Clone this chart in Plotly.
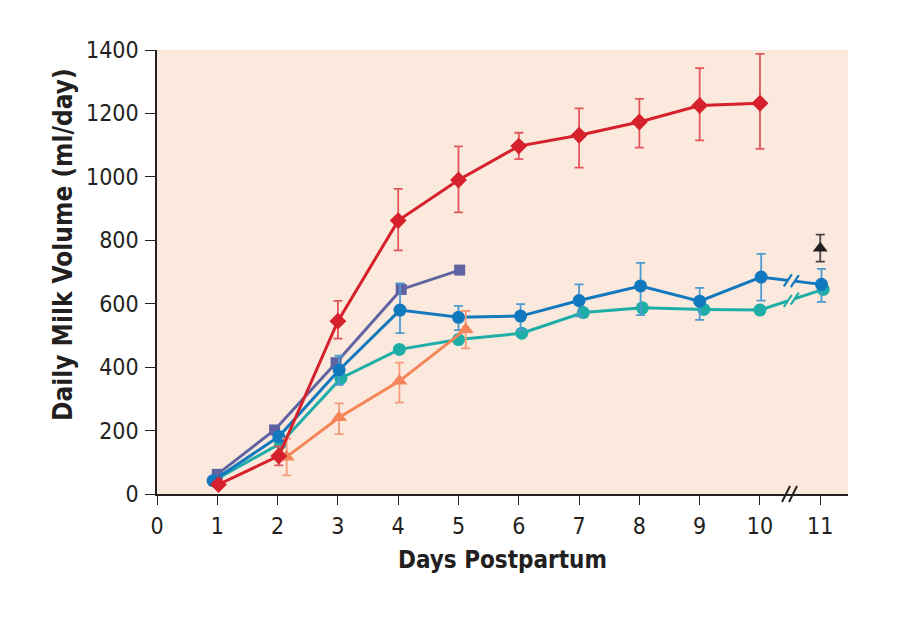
import plotly.graph_objects as go

# ---------------- data ----------------
red_x = [1.02, 2.02, 3.0, 4.0, 5.0, 6.0, 7.0, 8.0, 9.0, 10.0]
red_y = [30, 120, 545, 862, 990, 1097, 1131, 1173, 1225, 1232]
red_ep = [None, 30, 64, 100, 106, 42, 85, 73, 118, 156]
red_em = [None, 30, 55, 94, 102, 41, 102, 81, 110, 144]

purple_x = [1.0, 1.95, 2.97, 4.05, 5.02]
purple_y = [62, 202, 414, 645, 706]

blue_x = [0.93, 2.02, 3.02, 4.03, 5.0, 6.03, 7.0, 8.02, 9.0, 10.02, 11.02]
blue_y = [42, 181, 391, 580, 557, 561, 610, 656, 608, 684, 661]
blue_ep = [None, None, 45, 84, 36, 38, 51, 73, 42, 73, 49]
blue_em = [None, None, 47, 73, 40, 44, 50, 92, 59, 74, 55]

teal_x = [0.97, 2.05, 3.05, 4.02, 5.0, 6.05, 7.07, 8.05, 9.07, 10.0, 11.05]
teal_y = [45, 160, 365, 456, 487, 507, 572, 587, 582, 580, 645]

orange_x = [2.15, 3.02, 4.02, 5.12]
orange_y = [117, 241, 356, 519]
orange_ep = [58, 45, 58, 58]
orange_em = [58, 52, 68, 60]

black_x = [11.0]
black_y = [775]
black_ep = [43]
black_em = [42]

x_ticks = list(range(0, 12))
y_ticks = [0, 200, 400, 600, 800, 1000, 1200, 1400]
x_range = [0, 11.46]
y_range = [0, 1400]
break_x = 10.52

# ---------------- style ----------------
RED = "#D6202B"
PURPLE = "#5F63A2"
BLUE = "#1279BE"
TEAL = "#1FADA8"
ORANGE = "#F4855A"
BLACK = "#231F20"
BG = "#FCE9DD"
AXIS = "#231F20"

# the page body has an 8px margin, so the figure is slightly smaller
W, H = 892, 636
ML, MR, MT, MB = 149, 52, 42, 150
PW = W - ML - MR
PH = H - MT - MB
ppx = PW / (x_range[1] - x_range[0])   # pixels per day
ppy = PH / (y_range[1] - y_range[0])   # pixels per ml

fig = go.Figure()


def add_series(x, y, color, symbol, size, ep=None, em=None, ecolor=None):
    err = None
    if ep is not None:
        err = dict(type="data", symmetric=False, array=ep, arrayminus=em,
                   color=ecolor or color, thickness=1.8, width=4.5)
    fig.add_trace(go.Scatter(
        x=x, y=y, mode="lines+markers",
        line=dict(color=color, width=3),
        marker=dict(color=color, symbol=symbol, size=size, line=dict(width=0)),
        error_y=err, showlegend=False, cliponaxis=False))


def interp(xs, ys, xv):
    for i in range(len(xs) - 1):
        if xs[i] <= xv <= xs[i + 1]:
            t = (xv - xs[i]) / (xs[i + 1] - xs[i])
            return ys[i] + t * (ys[i + 1] - ys[i])
    return ys[-1]


def add_break(xs, ys, color):
    yc = interp(xs, ys, break_x)
    gx = 3.5 / ppx
    slope = (interp(xs, ys, break_x + 0.01) - yc) / 0.01
    fig.add_trace(go.Scatter(
        x=[break_x - gx, break_x + gx],
        y=[yc - slope * gx, yc + slope * gx],
        mode="lines", line=dict(color=BG, width=8), showlegend=False,
        hoverinfo="skip"))
    for off in (-gx, gx):
        xc = break_x + off
        ycc = yc + slope * off
        dx = 4 / ppx
        dy = 6 / ppy
        fig.add_trace(go.Scatter(
            x=[xc - dx, xc + dx], y=[ycc - dy, ycc + dy],
            mode="lines", line=dict(color=color, width=2.2),
            showlegend=False, hoverinfo="skip"))


add_series(teal_x, teal_y, TEAL, "circle", 13)
add_series(purple_x, purple_y, PURPLE, "square", 11)
add_series(blue_x, blue_y, BLUE, "circle", 13, blue_ep, blue_em, "#4A9BD0")
add_series(orange_x, orange_y, ORANGE, "triangle-up", 14, orange_ep, orange_em, "#F59C7A")
add_series(red_x, red_y, RED, "diamond", 13, red_ep, red_em, "#E2565C")
add_series(black_x, black_y, BLACK, "triangle-up", 13, black_ep, black_em, "#4A4446")

add_break(blue_x, blue_y, BLUE)
add_break(teal_x, teal_y, TEAL)

# axis break on the x axis
for off in (-3.5, 3.5):
    xc = break_x - 0.03 + off / ppx
    fig.add_shape(type="line", xref="x", yref="paper",
                  x0=xc - 4 / ppx, x1=xc + 4 / ppx,
                  y0=-8 / PH, y1=8 / PH,
                  line=dict(color=AXIS, width=2), layer="above")

tick_font = dict(family="DejaVu Sans Condensed, Liberation Sans Narrow, sans-serif",
                 size=23, color=BLACK)

fig.update_layout(
    width=W, height=H,
    margin=dict(l=ML, r=MR, t=MT, b=MB),
    paper_bgcolor="white",
    plot_bgcolor=BG,
    showlegend=False,
    xaxis=dict(range=x_range, tickmode="array", tickvals=x_ticks,
               ticktext=[str(t) for t in x_ticks],
               showgrid=False, zeroline=False, showline=True,
               linecolor=AXIS, linewidth=1.5,
               ticks="outside", ticklen=9, tickwidth=1.3, tickcolor=AXIS,
               tickfont=tick_font, ticklabelstandoff=2),
    yaxis=dict(range=y_range, tickmode="array", tickvals=y_ticks,
               showgrid=False, zeroline=False, showline=True,
               linecolor=AXIS, linewidth=1.5,
               ticks="outside", ticklen=10, tickwidth=1.3, tickcolor=AXIS,
               tickfont=tick_font, ticklabelstandoff=2),
    annotations=[
        dict(text="<b>Days Postpartum</b>", xref="paper", yref="paper",
             x=0.5, y=-66 / PH, xanchor="center", yanchor="middle",
             showarrow=False,
             font=dict(family="DejaVu Sans Condensed, Liberation Sans Narrow, sans-serif",
                       size=24, color=BLACK)),
        dict(text="<b>Daily Milk Volume (ml/day)</b>", xref="paper", yref="paper",
             x=-94 / PW, y=(494 - 245) / PH, xanchor="center", yanchor="middle",
             textangle=-90, showarrow=False,
             font=dict(family="DejaVu Sans Condensed, Liberation Sans Narrow, sans-serif",
                       size=26, color=BLACK)),
    ],
)

fig.write_html("out.html")
